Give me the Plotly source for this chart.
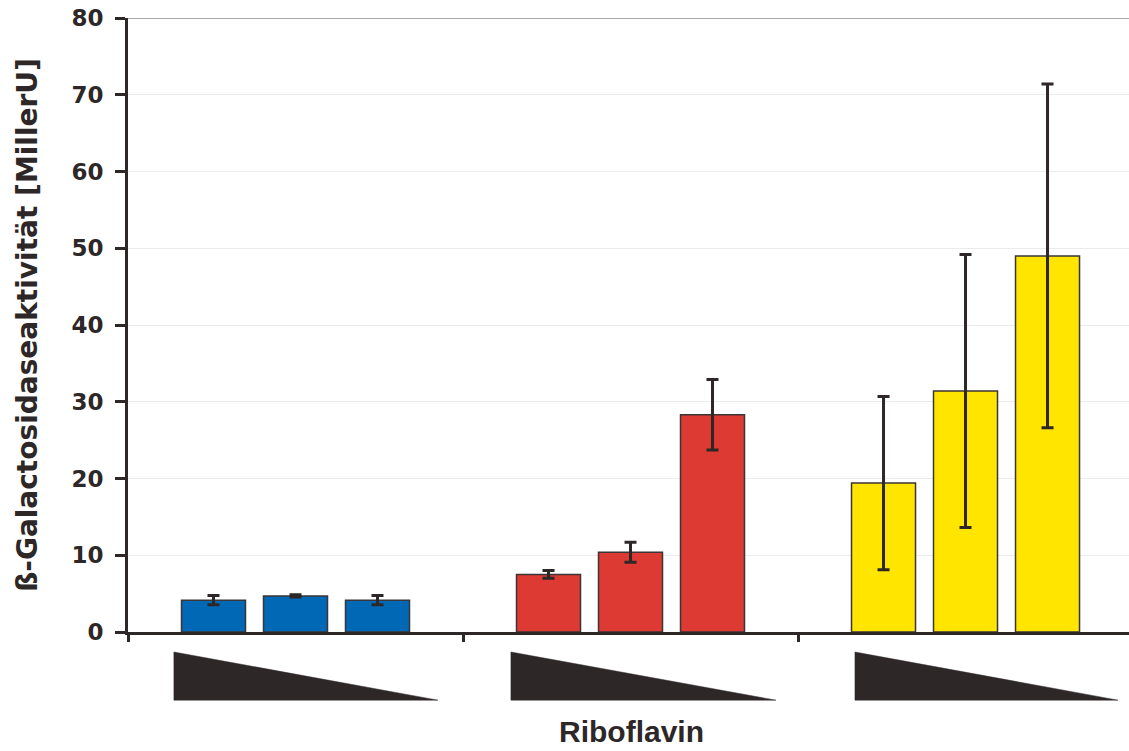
import plotly.graph_objects as go

groups = ["A", "B", "C"]
levels = ["hoch", "mittel", "niedrig"]
# values per level (trace) across the three groups
values = {
    "hoch":    [4.15, 7.5, 19.4],
    "mittel":  [4.7, 10.4, 31.4],
    "niedrig": [4.15, 28.3, 49.0],
}
errors = {
    "hoch":    [0.6, 0.5, 11.3],
    "mittel":  [0.15, 1.3, 17.8],
    "niedrig": [0.6, 4.6, 22.4],
}
group_colors = ["#0068b4", "#dc3a33", "#ffe500"]
y_ticks = [0, 10, 20, 30, 40, 50, 60, 70, 80]

dark = "#2d2728"

fig = go.Figure()
for lv in levels:
    fig.add_trace(go.Bar(
        x=groups, y=values[lv], name=lv,
        marker=dict(color=group_colors, line=dict(color="#3a3536", width=1.5)),
        error_y=dict(type="data", array=errors[lv], visible=True,
                     color=dark, thickness=3, width=6),
        showlegend=False,
    ))

# decreasing-concentration wedges under each group (extent relative to group centre)
wedge_left = [-0.363, -0.357, -0.330]
wedge_right = [0.425, 0.434, 0.455]
shapes = []
for i in range(len(groups)):
    l, r = i + wedge_left[i], i + wedge_right[i]
    shapes.append(dict(
        type="path", xref="x", yref="paper",
        path=f"M {l},-0.0326 L {l},-0.111 L {r},-0.111 Z",
        fillcolor=dark, line=dict(color=dark, width=0.5),
    ))
# darker top grid line at 80
shapes.append(dict(type="line", xref="paper", yref="y", x0=0, x1=1, y0=80, y1=80,
                   line=dict(color="#a7abb0", width=2)))

fig.update_layout(
    width=1129, height=751,
    margin=dict(l=128, r=0, t=18, b=119),
    paper_bgcolor="white", plot_bgcolor="white",
    barmode="group", bargap=0.2657, bargroupgap=0.2195,
    shapes=shapes,
    xaxis=dict(
        range=[-0.5, 2.488], showticklabels=False,
        tickson="boundaries", ticks="outside", ticklen=7, tickwidth=2.5, tickcolor=dark,
        showline=True, linecolor=dark, linewidth=3, showgrid=False, zeroline=False,
    ),
    yaxis=dict(
        range=[0, 80], tickvals=y_ticks, ticks="outside", ticklen=10, tickwidth=3,
        tickcolor=dark, showline=True, linecolor=dark, linewidth=3,
        showgrid=True, gridcolor="#ebebeb", gridwidth=1, zeroline=False,
        ticklabelstandoff=7,
        tickfont=dict(family="DejaVu Sans", size=23, color=dark, weight="bold"),
        title=dict(text="ß-Galactosidaseaktivität [MillerU]",
                   font=dict(family="DejaVu Sans", size=28, color=dark, weight="bold"),
                   standoff=26),
    ),
    annotations=[dict(
        text="Riboflavin", xref="paper", yref="paper", x=0.503, y=-0.1925,
        xanchor="center", yanchor="bottom", showarrow=False,
        font=dict(family="Liberation Sans", size=30, color=dark, weight="bold"),
    )],
)

fig.write_html("out.html", config={"displayModeBar": False},
               post_script="document.body.style.margin='0';")
